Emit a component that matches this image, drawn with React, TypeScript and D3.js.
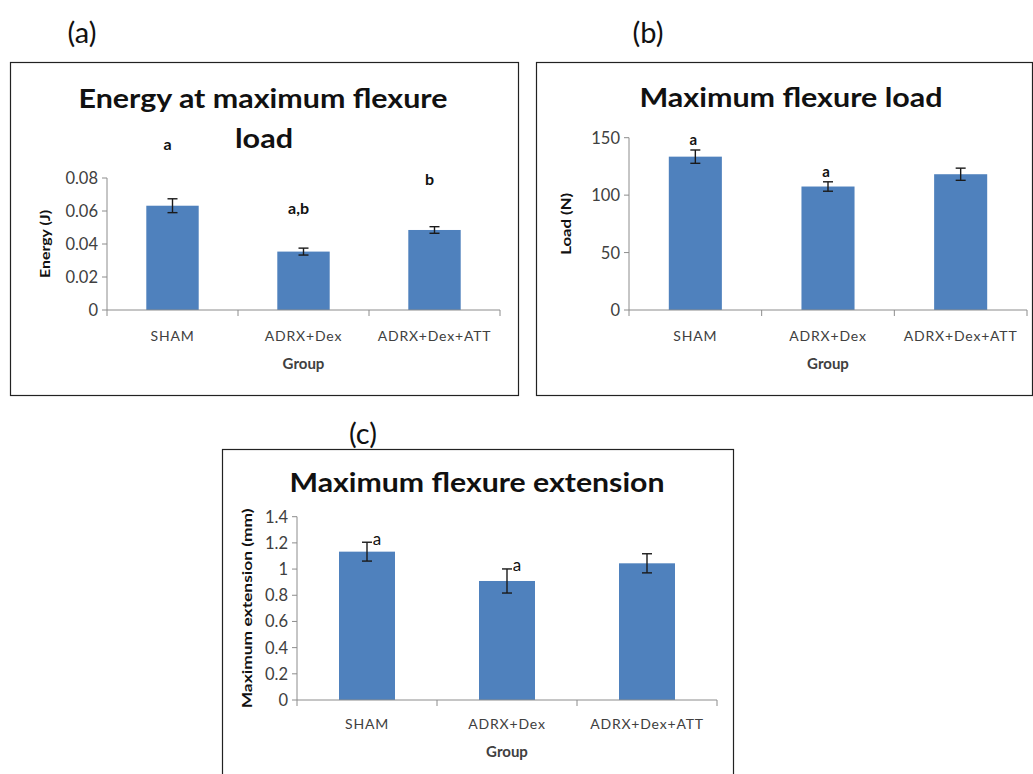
import React from "react";
import * as d3 from "d3";

const groups = ["SHAM", "ADRX+Dex", "ADRX+Dex+ATT"];

const energyValues = [0.0632, 0.0354, 0.0485];
const energyErrors = [0.0042, 0.0021, 0.002];
const energyLetters = ["a", "a,b", "b"];
const energyTicks = [0, 0.02, 0.04, 0.06, 0.08];

const loadValues = [133.5, 107.5, 118.2];
const loadErrors = [5.8, 4.1, 5.3];
const loadLetters = ["a", "a", ""];
const loadTicks = [0, 50, 100, 150];

const extValues = [1.133, 0.909, 1.044];
const extErrors = [0.072, 0.092, 0.073];
const extLetters = ["a", "a", ""];
const extTicks = [0, 0.2, 0.4, 0.6, 0.8, 1, 1.2, 1.4];

const BAR = "#4F81BD";
const AXIS = "#8c8c8c";
const FONT = "Lato, 'Open Sans', sans-serif";

type PanelProps = {
  box: { x: number; y: number; w: number; h: number };
  label: string;
  labelPos: [number, number];
  titleLines: { text: string; x: number; y: number; len: number }[];
  plot: { x0: number; x1: number; yZero: number; yTop: number };
  max: number;
  values: number[];
  errors: number[];
  letters: string[];
  letterPos: (cx: number, top: number, i: number) => [number, number];
  letterBold: boolean;
  letterSize: number;
  ticks: number[];
  fmt: (v: number) => string;
  yLabel: string;
  yLabelX: number;
  yLabelLen: number;
  catLabelY: number;
  groupY: number;
};

function Panel(p: PanelProps) {
  const x = d3.scaleBand<string>().domain(groups).range([p.plot.x0, p.plot.x1]).paddingInner(0).paddingOuter(0);
  const y = d3.scaleLinear().domain([0, p.max]).range([p.plot.yZero, p.plot.yTop]);
  const bw = x.bandwidth() * 0.4;
  const catTicks = [...groups.map((g) => x(g) as number), p.plot.x1];
  return (
    <g>
      <rect x={p.box.x + 0.5} y={p.box.y + 0.5} width={p.box.w} height={p.box.h} fill="#fff" stroke="#222" strokeWidth={1.2} />
      <text x={p.labelPos[0]} y={p.labelPos[1]} fontFamily={FONT} fontSize={29} textAnchor="middle" dominantBaseline="central" fill="#111">
        {p.label}
      </text>
      {p.titleLines.map((t, i) => (
        <text key={i} x={t.x} y={t.y} fontFamily={FONT} fontWeight="bold" fontSize={26} textAnchor="middle" fill="#111" textLength={t.len} lengthAdjust="spacingAndGlyphs">
          {t.text}
        </text>
      ))}
      {groups.map((g, i) => {
        const cx = (x(g) as number) + x.bandwidth() / 2;
        return (
          <rect key={g} x={cx - bw / 2} y={y(p.values[i])} width={bw} height={p.plot.yZero - y(p.values[i])} fill={BAR} />
        );
      })}
      {groups.map((g, i) => {
        const cx = (x(g) as number) + x.bandwidth() / 2;
        const hi = y(p.values[i] + p.errors[i]);
        const lo = y(p.values[i] - p.errors[i]);
        return (
          <g key={g} stroke="#1a1a1a" strokeWidth={1.4}>
            <line x1={cx} x2={cx} y1={hi} y2={lo} />
            <line x1={cx - 5} x2={cx + 5} y1={hi} y2={hi} />
            <line x1={cx - 5} x2={cx + 5} y1={lo} y2={lo} />
          </g>
        );
      })}
      <line x1={p.plot.x0} x2={p.plot.x0} y1={p.plot.yTop} y2={p.plot.yZero} stroke={AXIS} />
      <line x1={p.plot.x0} x2={p.plot.x1} y1={p.plot.yZero} y2={p.plot.yZero} stroke={AXIS} />
      {p.ticks.map((t) => (
        <g key={t}>
          <line x1={p.plot.x0 - 5} x2={p.plot.x0} y1={y(t)} y2={y(t)} stroke={AXIS} />
          <text x={p.plot.x0 - 9} y={y(t)} textAnchor="end" dominantBaseline="central" fontFamily={FONT} fontSize={16.5} fill="#404040">
            {p.fmt(t)}
          </text>
        </g>
      ))}
      {catTicks.map((cx, i) => (
        <line key={i} x1={cx} x2={cx} y1={p.plot.yZero} y2={p.plot.yZero + 6} stroke={AXIS} />
      ))}
      {groups.map((g) => (
        <text key={g} x={(x(g) as number) + x.bandwidth() / 2} y={p.catLabelY} textAnchor="middle" dominantBaseline="central" fontFamily={FONT} fontSize={14} letterSpacing={0.8} fill="#404040">
          {g}
        </text>
      ))}
      <text x={(p.plot.x0 + p.plot.x1) / 2} y={p.groupY} textAnchor="middle" dominantBaseline="central" fontFamily={FONT} fontWeight="bold" fontSize={15} fill="#404040">
        Group
      </text>
      <text
        transform={`translate(${p.yLabelX},${(p.plot.yTop + p.plot.yZero) / 2}) rotate(-90)`}
        textAnchor="middle"
        dominantBaseline="central"
        fontFamily={FONT}
        fontWeight="bold"
        fontSize={13}
        fill="#111"
        textLength={p.yLabelLen}
        lengthAdjust="spacingAndGlyphs"
      >
        {p.yLabel}
      </text>
      {groups.map((g, i) => {
        if (!p.letters[i]) return null;
        const cx = (x(g) as number) + x.bandwidth() / 2;
        const [lx, ly] = p.letterPos(cx, y(p.values[i] + p.errors[i]), i);
        return (
          <text key={g} x={lx} y={ly} textAnchor="middle" dominantBaseline="central" fontFamily={FONT} fontWeight={p.letterBold ? "bold" : "normal"} fontSize={p.letterSize} fill="#111">
            {p.letters[i]}
          </text>
        );
      })}
    </g>
  );
}

export default function App() {
  const energyLetterY = [143, 207, 178];
  return (
    <svg width={1033} height={774} style={{ position: "absolute", left: 0, top: 0, background: "#fff" }}>
      <rect x={0} y={0} width={1033} height={774} fill="#fff" />
      <Panel
        box={{ x: 10, y: 62, w: 508, h: 333 }}
        label="(a)"
        labelPos={[82, 31]}
        titleLines={[
          { text: "Energy at maximum flexure", x: 263, y: 108, len: 369 },
          { text: "load", x: 264, y: 148, len: 58 },
        ]}
        plot={{ x0: 107, x1: 500, yZero: 310, yTop: 178 }}
        max={0.08}
        values={energyValues}
        errors={energyErrors}
        letters={energyLetters}
        letterPos={(cx, _t, i) => [cx - 5, energyLetterY[i]]}
        letterBold={true}
        letterSize={16}
        ticks={energyTicks}
        fmt={(v) => (v === 0 ? "0" : d3.format(".2f")(v))}
        yLabel="Energy (J)"
        yLabelX={45}
        yLabelLen={68}
        catLabelY={335}
        groupY={363}
      />
      <Panel
        box={{ x: 536, y: 62, w: 496, h: 333 }}
        label="(b)"
        labelPos={[648, 31]}
        titleLines={[{ text: "Maximum flexure load", x: 791, y: 107, len: 303 }]}
        plot={{ x0: 629, x1: 1027, yZero: 310, yTop: 137.7 }}
        max={150}
        values={loadValues}
        errors={loadErrors}
        letters={loadLetters}
        letterPos={(cx, top) => [cx - 2, top - 11]}
        letterBold={true}
        letterSize={15}
        ticks={loadTicks}
        fmt={(v) => String(v)}
        yLabel="Load (N)"
        yLabelX={566}
        yLabelLen={62}
        catLabelY={335}
        groupY={363}
      />
      <Panel
        box={{ x: 222, y: 449, w: 511, h: 345 }}
        label="(c)"
        labelPos={[363, 432]}
        titleLines={[{ text: "Maximum flexure extension", x: 477, y: 492, len: 375 }]}
        plot={{ x0: 297, x1: 717, yZero: 700, yTop: 516.7 }}
        max={1.4}
        values={extValues}
        errors={extErrors}
        letters={extLetters}
        letterPos={(cx, top) => [cx + 10, top - 4]}
        letterBold={false}
        letterSize={17}
        ticks={extTicks}
        fmt={(v) => (v === 0 || v === 1 ? String(v) : d3.format(".1f")(v))}
        yLabel="Maximum extension (mm)"
        yLabelX={247}
        yLabelLen={200}
        catLabelY={723}
        groupY={751}
      />
    </svg>
  );
}
